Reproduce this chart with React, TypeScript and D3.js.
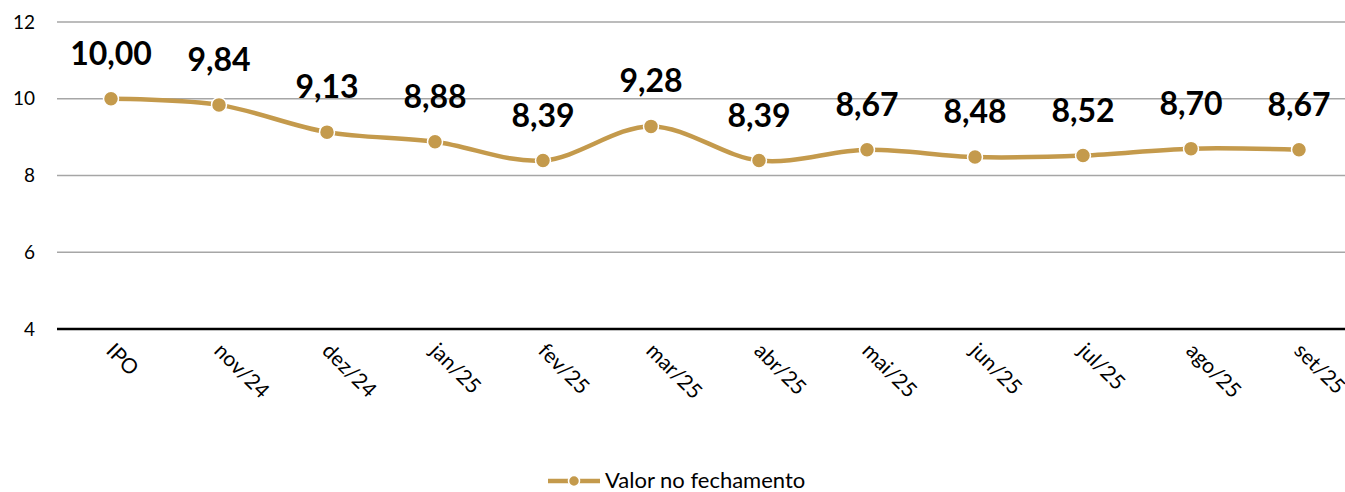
import React, { useEffect, useRef } from 'react'
import * as d3 from 'd3'

const categories = ['IPO', 'nov/24', 'dez/24', 'jan/25', 'fev/25', 'mar/25', 'abr/25', 'mai/25', 'jun/25', 'jul/25', 'ago/25', 'set/25']
const values = [10.0, 9.84, 9.13, 8.88, 8.39, 9.28, 8.39, 8.67, 8.48, 8.52, 8.7, 8.67]
const yTicks = [4, 6, 8, 10, 12]
const seriesName = 'Valor no fechamento'

const gold = '#C49A4C'
const font = 'Lato, Calibri, "Noto Sans", sans-serif'

export default function App() {
  const ref = useRef<SVGSVGElement>(null)

  useEffect(() => {
    const svg = d3.select(ref.current)
    svg.selectAll('*').remove()

    const left = 57, right = 1353
    const x = d3.scaleBand().domain(categories).range([left, right])
    const y = d3.scaleLinear().domain([4, 12]).range([329, 22])
    const cx = (d: string) => (x(d) as number) + x.bandwidth() / 2

    // grid
    svg.append('g')
      .selectAll('line')
      .data(yTicks)
      .enter()
      .append('line')
      .attr('x1', left)
      .attr('x2', 1345)
      .attr('y1', d => y(d))
      .attr('y2', d => y(d))
      .attr('stroke', d => d === 4 ? '#000' : '#a6a6a6')
      .attr('stroke-width', d => d === 4 ? 2.5 : 1.3)

    // y labels
    svg.append('g')
      .selectAll('text')
      .data(yTicks)
      .enter()
      .append('text')
      .attr('x', 35)
      .attr('y', d => y(d))
      .attr('dy', '0.35em')
      .attr('text-anchor', 'end')
      .attr('font-family', font)
      .attr('font-size', 19)
      .attr('fill', '#000')
      .text(d => d)

    // x labels, rotated
    svg.append('g')
      .selectAll('text')
      .data(categories)
      .enter()
      .append('text')
      .attr('transform', d => `translate(${cx(d) - 6},${352}) rotate(45)`)
      .attr('font-family', font)
      .attr('font-size', 21)
      .attr('fill', '#000')
      .text(d => d)

    const pts = categories.map((c, i) => ({ c, v: values[i] }))
    const line = d3.line<{ c: string, v: number }>()
      .x(d => cx(d.c))
      .y(d => y(d.v))
      .curve(d3.curveCatmullRom.alpha(0))

    svg.append('path')
      .datum(pts)
      .attr('d', line)
      .attr('fill', 'none')
      .attr('stroke', gold)
      .attr('stroke-width', 4.5)

    svg.append('g')
      .selectAll('circle')
      .data(pts)
      .enter()
      .append('circle')
      .attr('cx', d => cx(d.c))
      .attr('cy', d => y(d.v))
      .attr('r', 7.5)
      .attr('fill', gold)
      .attr('stroke', '#fff')
      .attr('stroke-width', 1.5)

    svg.append('g')
      .selectAll('text')
      .data(pts)
      .enter()
      .append('text')
      .attr('x', d => cx(d.c))
      .attr('y', d => y(d.v) - 34)
      .attr('text-anchor', 'middle')
      .attr('font-family', font)
      .attr('font-weight', 'bold')
      .attr('font-size', 32)
      .attr('fill', '#000')
      .text(d => d3.format('.2f')(d.v).replace('.', ','))

    // legend
    const lg = svg.append('g').attr('transform', 'translate(548,481)')
    lg.append('line').attr('x1', 0).attr('x2', 52).attr('y1', 0).attr('y2', 0)
      .attr('stroke', gold).attr('stroke-width', 4.5)
    lg.append('circle').attr('cx', 26).attr('cy', 0).attr('r', 5.5).attr('fill', gold)
      .attr('stroke', '#fff').attr('stroke-width', 1.5)
    lg.append('text').attr('x', 57).attr('y', 0).attr('dy', '0.33em')
      .attr('font-family', font).attr('font-size', 22).attr('fill', '#000')
      .text(seriesName)
  }, [])

  return (
    <svg ref={ref} width={1345} height={492}
      style={{ position: 'absolute', left: 0, top: 0, background: '#fff' }} />
  )
}
